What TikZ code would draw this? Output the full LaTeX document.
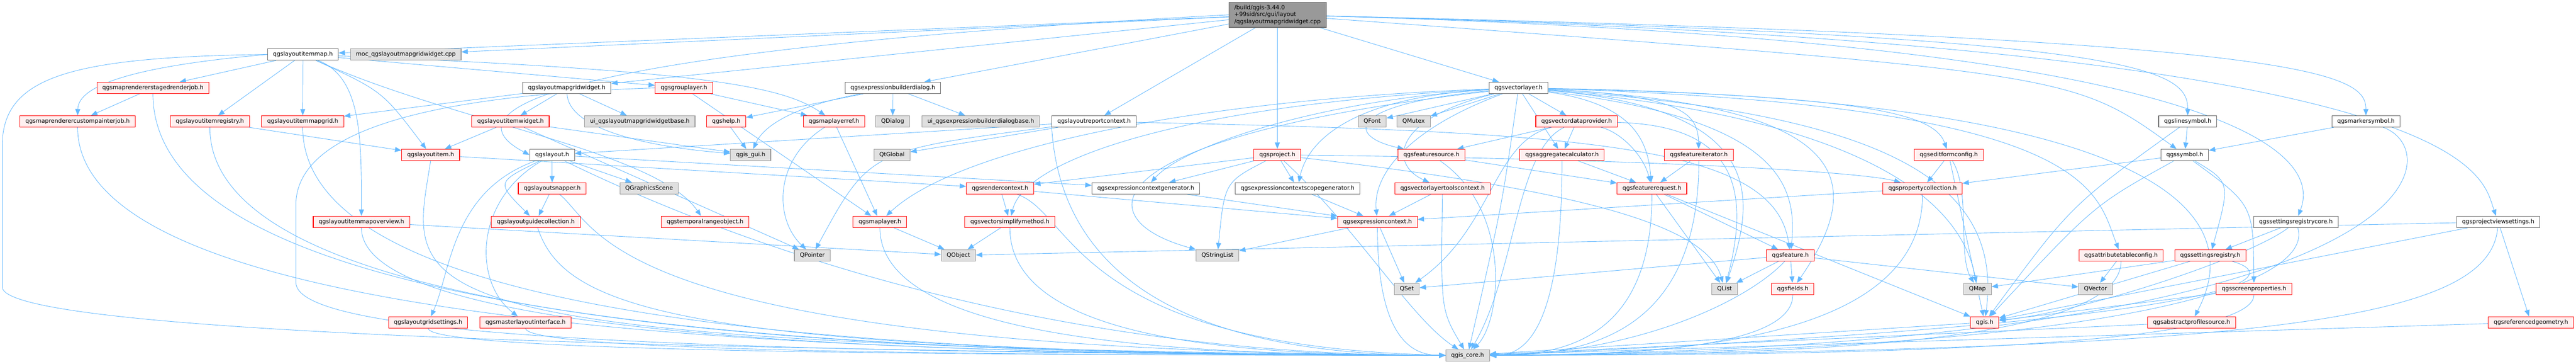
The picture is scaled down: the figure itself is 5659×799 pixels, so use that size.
\documentclass[tikz,border=0pt]{standalone}
\usepackage{fontspec}
\setmainfont{DejaVu Sans}
\usetikzlibrary{arrows.meta,calc}
\definecolor{edgec}{HTML}{63B8FF}
\definecolor{redb}{HTML}{FF0000}
\definecolor{redf}{HTML}{FFF0F0}
\definecolor{grayb}{HTML}{999999}
\definecolor{grayf}{HTML}{E0E0E0}
\definecolor{darkb}{HTML}{666666}
\definecolor{mainf}{HTML}{999999}
\pgfdeclarelayer{bg}
\pgfsetlayers{bg,main}
\tikzset{
 nbox/.style={rectangle, inner xsep=12pt, inner ysep=0pt, minimum height=25pt, line width=1.2pt, font=\fontsize{12.7}{15.3}\selectfont},
 rn/.style={nbox, draw=redb, fill=redf},
 gn/.style={nbox, draw=grayb, fill=grayf},
 wn/.style={nbox, draw=darkb, fill=white},
 edg/.style={draw=edgec, line width=1pt, -{Triangle[length=14pt,width=11pt]}},
}
\newcommand\lnk[2]{\draw[edg] (#1) -- (#2);}
\newcommand\tocoreL[1]{\draw[edg] let \p1=(#1.south), \p2=(core.west) in (\p1) .. controls (\x1,{0.1*(\y1)+0.9*(\y2)}) and ({0.45*(\x1)+0.55*(\x2)},\y2) .. (\p2);}
\newcommand\tocoreR[1]{\draw[edg] let \p1=(#1.south), \p2=(core.east) in (\p1) .. controls (\x1,{0.1*(\y1)+0.9*(\y2)}) and ({0.45*(\x1)+0.55*(\x2)},\y2) .. (\p2);}
\begin{document}
\begin{tikzpicture}[x=1pt,y=-1pt]
\useasboundingbox (0,0) rectangle (5659,799);
% main
\node[nbox, draw=darkb, fill=mainf, align=left, minimum height=55pt] (src) at (2806.5,32.5) {/build/qgis-3.44.0\\+99sid/src/gui/layout\\/qgslayoutmapgridwidget.cpp};
% row 2
\node[wn] (imap) at (665.5,119.5) {qgslayoutitemmap.h};
\node[gn] (moc) at (891.5,119.5) {moc\_qgslayoutmapgridwidget.cpp};
% row 3
\node[rn] (staged) at (336,193) {qgsmaprendererstagedrenderjob.h};
\node[wn] (gridwidget) at (1245,193) {qgslayoutmapgridwidget.h};
\node[rn] (grouplayer) at (1502.5,193) {qgsgrouplayer.h};
\node[wn] (exprdlg) at (1961.5,193) {qgsexpressionbuilderdialog.h};
\node[wn] (vlayer) at (3336,193) {qgsvectorlayer.h};
% row 4
\node[rn] (custom) at (170.5,266.5) {qgsmaprenderercustompainterjob.h};
\node[rn] (registry) at (461,266.5) {qgslayoutitemregistry.h};
\node[rn] (mapgrid) at (665,266.5) {qgslayoutitemmapgrid.h};
\node[rn] (itemwidget) at (1121.5,266.5) {qgslayoutitemwidget.h};
\node[gn] (uigrid) at (1405.5,266.5) {ui\_qgslayoutmapgridwidgetbase.h};
\node[rn] (help) at (1595.5,266.5) {qgshelp.h};
\node[rn] (mlref) at (1832,266.5) {qgsmaplayerref.h};
\node[gn] (qdialog) at (1961,266.5) {QDialog};
\node[gn] (uiexpr) at (2154.5,266.5) {ui\_qgsexpressionbuilderdialogbase.h};
\node[wn] (reportctx) at (2403.5,266.5) {qgslayoutreportcontext.h};
\node[gn] (qfont) at (3014.5,266.5) {QFont};
\node[gn] (qmutex) at (3105.5,266.5) {QMutex};
\node[rn] (vdp) at (3463.5,266.5) {qgsvectordataprovider.h};
\node[wn] (linesym) at (4806,266.5) {qgslinesymbol.h};
\node[wn] (markersym) at (5197.5,266.5) {qgsmarkersymbol.h};
% row 5
\node[rn] (litem) at (946,340) {qgslayoutitem.h};
\node[wn] (layout) at (1213,340) {qgslayout.h};
\node[gn] (qgisgui) at (1649,340) {qgis\_gui.h};
\node[gn] (qtglobal) at (1959.5,340) {QtGlobal};
\node[rn] (project) at (2806,340) {qgsproject.h};
\node[rn] (fsource) at (3144.5,340) {qgsfeaturesource.h};
\node[rn] (aggr) at (3431.5,340) {qgsaggregatecalculator.h};
\node[rn] (fiter) at (3732,340) {qgsfeatureiterator.h};
\node[rn] (editform) at (4281,340) {qgseditformconfig.h};
\node[wn] (symbol) at (4799.5,340) {qgssymbol.h};
% row 6
\node[rn] (snapper) at (1213,413.5) {qgslayoutsnapper.h};
\node[gn] (qgscene) at (1426,413.5) {QGraphicsScene};
\node[rn] (rctx) at (2197,413.5) {qgsrendercontext.h};
\node[wn] (ecgen) at (2517,413.5) {qgsexpressioncontextgenerator.h};
\node[wn] (ecsgen) at (2850.5,413.5) {qgsexpressioncontextscopegenerator.h};
\node[rn] (vltctx) at (3169,413.5) {qgsvectorlayertoolscontext.h};
\node[rn] (freq) at (3629,413.5) {qgsfeaturerequest.h};
\node[rn] (propcoll) at (4223.5,413.5) {qgspropertycollection.h};
% row 7
\node[rn] (overview) at (794,487) {qgslayoutitemmapoverview.h};
\node[rn] (guidecoll) at (1177,487) {qgslayoutguidecollection.h};
\node[rn] (temporal) at (1549,487) {qgstemporalrangeobject.h};
\node[rn] (maplayer) at (1933,487) {qgsmaplayer.h};
\node[rn] (vsimp) at (2218.5,487) {qgsvectorsimplifymethod.h};
\node[rn] (ectx) at (3026,487) {qgsexpressioncontext.h};
\node[wn] (setregcore) at (5043.5,487) {qgssettingsregistrycore.h};
\node[wn] (projview) at (5488,487) {qgsprojectviewsettings.h};
% row 8
\node[gn] (qpointer) at (1784.5,560.5) {QPointer};
\node[gn] (qobject) at (2105.5,560.5) {QObject};
\node[gn] (qstrlist) at (2674.5,560.5) {QStringList};
\node[rn] (feature) at (3933,560.5) {qgsfeature.h};
\node[rn] (attrtab) at (4659.5,560.5) {qgsattributetableconfig.h};
\node[rn] (setreg) at (4855.5,560.5) {qgssettingsregistry.h};
% row 9
\node[gn] (qset) at (3090.5,634) {QSet};
\node[gn] (qlist) at (3788.5,634) {QList};
\node[rn] (fields) at (3938.5,634) {qgsfields.h};
\node[gn] (qmap) at (4344,634) {QMap};
\node[gn] (qvector) at (4603.5,634) {QVector};
\node[rn] (screenprop) at (4951.5,634) {qgsscreenproperties.h};
% row 10
\node[rn] (gridset) at (940.5,707.5) {qgslayoutgridsettings.h};
\node[rn] (masterlay) at (1154.5,707.5) {qgsmasterlayoutinterface.h};
\node[rn] (qgish) at (4360,707.5) {qgis.h};
\node[rn] (profsrc) at (4814.5,707.5) {qgsabstractprofilesource.h};
\node[rn] (refgeom) at (5560,707.5) {qgsreferencedgeometry.h};
% row 11
\node[gn] (core) at (3224,780) {qgis\_core.h};

\begin{pgfonlayer}{bg}
% main file
\lnk{src}{imap}
\lnk{src}{moc}
\lnk{src}{gridwidget}
\lnk{src}{exprdlg}
\lnk{src}{reportctx}
\lnk{src}{project}
\lnk{src}{vlayer}
\draw[edg] (src.west) .. controls (1150,115) and (990,250) .. (layout.west);
\draw[edg] (src) .. controls (4550,160) .. (symbol);
\draw[edg] (src) .. controls (4700,80) and (4806,150) .. (linesym);
\draw[edg] (src) .. controls (5080,85) and (5197,160) .. (markersym);
\draw[edg] (src) .. controls (5085,95) and (5085,380) .. (setregcore);
\draw[edg] (src) .. controls (5450,100) and (5450,380) .. (projview);
% qgslayoutitemmap.h
\draw[edg] (imap.west) .. controls (150,125) and (5,170) .. (5,320) -- (5,630) .. controls (5,720) and (1200,770) .. (core.west);
\draw[edg] (imap.west) .. controls (240,150) and (172,200) .. (custom.north);
\lnk{imap}{staged}
\lnk{imap}{registry}
\lnk{imap}{mapgrid}
\draw[edg] (imap) .. controls (794,170) and (794,300) .. (overview);
\draw[edg] (imap) .. controls (840,200) .. (litem);
\lnk{imap}{grouplayer}
\draw[edg] (imap) .. controls (1550,155) and (1720,190) .. (mlref);
\draw[edg] (imap) .. controls (1000,270) and (1440,330) .. (temporal);
% renderer jobs, registry, grid
\lnk{staged}{custom}
\tocoreL{staged}
\tocoreL{custom}
\lnk{registry}{litem}
\tocoreL{registry}
\tocoreL{mapgrid}
\tocoreL{overview}
\lnk{overview}{qobject}
% widgets
\lnk{gridwidget}{mapgrid}
\lnk{gridwidget}{itemwidget}
\lnk{gridwidget}{uigrid}
\draw[edg] (gridwidget) .. controls (1250,290) and (1450,325) .. (qgisgui);
\lnk{itemwidget}{litem}
\lnk{itemwidget}{qgisgui}
\lnk{itemwidget}{qpointer}
\draw[edg] (litem.south) .. controls (900,650) and (800,760) .. (core.west);
\lnk{litem}{rctx}
% layout
\lnk{layout}{snapper}
\draw[edg] (layout) .. controls (1090,400) .. (guidecoll);
\lnk{layout}{qgscene}
\draw[edg] (layout) .. controls (990,420) and (990,600) .. (gridset);
\draw[edg] (layout) .. controls (1040,440) and (1040,620) .. (masterlay);
\lnk{layout}{ecgen}
\draw[edg] (layout) .. controls (1500,480) and (2200,781) .. (core.west);
\lnk{snapper}{guidecoll}
\draw[edg] (snapper) .. controls (1320,500) and (1330,770) .. (core.west);
\draw[edg] (guidecoll) .. controls (1240,680) and (1500,775) .. (core.west);
\tocoreL{gridset}
\tocoreL{masterlay}
% group layer, dialog
\lnk{grouplayer}{mlref}
\lnk{grouplayer}{maplayer}
\draw[edg] (grouplayer.west) .. controls (900,210) and (650,300) .. (650,450) -- (650,620) .. controls (650,740) and (1500,775) .. (core.west);
\lnk{exprdlg}{qdialog}
\lnk{exprdlg}{uiexpr}
\lnk{exprdlg}{help}
\draw[edg] (exprdlg) .. controls (1760,230) and (1680,270) .. (qgisgui);
\lnk{help}{qgisgui}
\lnk{mlref}{maplayer}
\draw[edg] (mlref) .. controls (1700,350) and (1700,480) .. (qpointer);
\lnk{maplayer}{qobject}
\tocoreL{maplayer}
% report context, project
\lnk{reportctx}{qtglobal}
\draw[edg] (reportctx) .. controls (1910,330) .. (qpointer);
\lnk{reportctx}{layout}
\draw[edg] (reportctx) .. controls (3500,290) and (3900,320) .. (feature);
\draw[edg] (reportctx.south west) .. controls (2330,600) and (2600,781) .. (core.west);
\lnk{project}{ecsgen}
\lnk{project}{ecgen}
\draw[edg] (project) .. controls (2690,400) .. (qstrlist);
\lnk{project}{rctx}
\draw[edg] (project) .. controls (3700,350) and (4100,380) .. (propcoll);
\draw[edg] (project) .. controls (3500,420) and (3750,500) .. (qlist);
\draw[edg] (project) .. controls (2980,500) and (3100,700) .. (core);
% render context, expression context
\lnk{rctx}{vsimp}
\draw[edg] (rctx) .. controls (2360,470) and (2360,760) .. (core.west);
\lnk{rctx}{ectx}
\lnk{ecgen}{ectx}
\lnk{ecsgen}{ectx}
\lnk{vsimp}{qobject}
\tocoreL{vsimp}
\lnk{ectx}{qset}
\tocoreL{ectx}
\lnk{ectx}{qstrlist}
% vector layer
\lnk{vlayer}{qfont}
\lnk{vlayer}{qmutex}
\lnk{vlayer}{vdp}
\draw[edg] (vlayer) .. controls (3380,260) .. (aggr);
\draw[edg] (vlayer) .. controls (2950,230) and (2960,300) .. (fsource);
\draw[edg] (vlayer) .. controls (3060,260) and (3050,360) .. (vltctx);
\draw[edg] (vlayer) .. controls (3100,280) and (3015,380) .. (ectx);
\draw[edg] (vlayer) .. controls (2900,220) and (2600,320) .. (ecgen);
\draw[edg] (vlayer) .. controls (2950,215) and (2870,320) .. (ecsgen);
\draw[edg] (vlayer) .. controls (2600,220) and (2100,330) .. (maplayer);
\draw[edg] (vlayer) .. controls (2600,230) and (2250,350) .. (vsimp);
\draw[edg] (vlayer) .. controls (2400,300) and (2380,480) .. (qstrlist);
\draw[edg] (vlayer) .. controls (3700,210) and (3730,250) .. (fiter);
\draw[edg] (vlayer) .. controls (3600,230) and (3620,320) .. (freq);
\draw[edg] (vlayer) .. controls (3900,260) and (3950,400) .. (feature);
\draw[edg] (vlayer) .. controls (3900,240) and (3850,450) .. (qlist);
\draw[edg] (vlayer) .. controls (4080,230) and (4100,400) .. (fields);
\draw[edg] (vlayer) .. controls (4100,210) and (4250,250) .. (editform);
\draw[edg] (vlayer) .. controls (4604,230) and (4604,420) .. (attrtab);
\draw[edg] (vlayer) .. controls (4150,250) and (4400,400) .. (qgish);
\draw[edg] (vlayer) .. controls (4000,250) and (4300,400) .. (qmap);
\draw[edg] (vlayer) .. controls (4700,215) and (4950,450) .. (profsrc);
\draw[edg] (vlayer) .. controls (3300,450) .. (core);
% data provider and features
\lnk{vdp}{fsource}
\lnk{vdp}{aggr}
\draw[edg] (vdp) .. controls (3280,310) and (3280,500) .. (qset);
\draw[edg] (vdp) .. controls (3330,330) and (3330,600) .. (core);
\draw[edg] (vdp) .. controls (3800,275) and (3850,400) .. (qlist);
\draw[edg] (vdp) .. controls (3560,290) and (3610,340) .. (freq);
\tocoreR{aggr}
\lnk{aggr}{freq}
\draw[edg] (fsource) .. controls (3320,460) and (3300,700) .. (core);
\lnk{fsource}{freq}
\lnk{vltctx}{ectx}
\draw[edg] (vltctx) .. controls (3165,680) .. (core);
\lnk{fiter}{freq}
\tocoreR{fiter}
\lnk{freq}{qlist}
\lnk{freq}{feature}
\tocoreR{freq}
\lnk{freq}{qgish}
\lnk{feature}{fields}
\lnk{feature}{qlist}
\draw[edg] (feature) .. controls (3840,660) and (3600,775) .. (core.east);
\lnk{feature}{qset}
\lnk{feature}{qvector}
\tocoreR{fields}
% edit form, property collection, attribute table
\lnk{editform}{propcoll}
\draw[edg] (editform) .. controls (4330,420) and (4300,560) .. (qmap);
\lnk{editform}{qgish}
\tocoreR{propcoll}
\lnk{propcoll}{ectx}
\lnk{attrtab}{qvector}
\tocoreR{attrtab}
% symbols and settings
\lnk{linesym}{symbol}
\draw[edg] (linesym) .. controls (4550,450) .. (qgish);
\lnk{symbol}{propcoll}
\draw[edg] (symbol) .. controls (4600,450) .. (qgish);
\draw[edg] (symbol) .. controls (4950,450) .. (screenprop);
\draw[edg] (symbol) .. controls (4900,400) .. (setreg);
\lnk{markersym}{symbol}
\draw[edg] (markersym) .. controls (5380,330) and (5370,760) .. (core.east);
\lnk{setregcore}{setreg}
\draw[edg] (setregcore) .. controls (5080,600) and (4800,770) .. (core.east);
\draw[edg] (setregcore) .. controls (4950,560) and (4600,680) .. (qgish);
\lnk{setreg}{qmap}
\lnk{setreg}{qgish}
\draw[edg] (setreg) .. controls (5000,600) and (5050,700) .. (core.east);
\tocoreR{screenprop}
\lnk{screenprop}{qgish}
\lnk{projview}{refgeom}
\draw[edg] (projview) .. controls (5470,700) and (5000,770) .. (core.east);
\lnk{projview}{qobject}
\lnk{projview}{qgish}
\lnk{refgeom}{core}
\lnk{profsrc}{core}
\lnk{qgish}{core}
\end{pgfonlayer}
\end{tikzpicture}
\end{document}
